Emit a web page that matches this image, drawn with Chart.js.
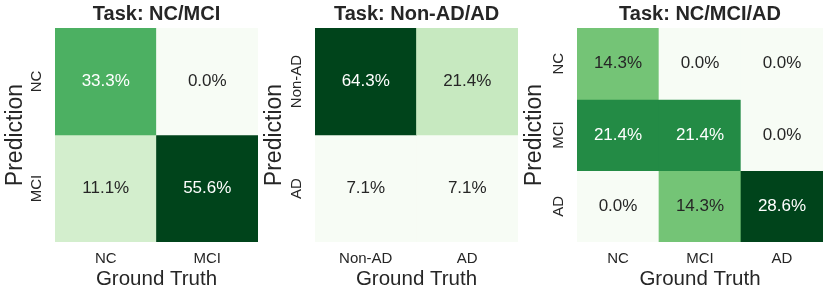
<!DOCTYPE html>
<html lang="en">
<head>
<meta charset="UTF-8">
<title>Confusion matrices</title>
<script src="https://cdn.jsdelivr.net/npm/chart.js"></script>
<style>
  body { margin: 0; background: #fff; }
  .painel { position: absolute; top: 0; }
</style>
</head>
<body>
  <canvas id="chartNcMci" class="painel" width="262" height="298" style="left:0px"></canvas>
  <canvas id="chartAd" class="painel" width="263" height="298" style="left:259px"></canvas>
  <canvas id="chartNcMciAd" class="painel" width="308" height="298" style="left:519px"></canvas>
<script>
// rows = prediction, columns = ground truth (percent)
const labelsNcMci = ['NC', 'MCI'];
const valuesNcMci = [[33.3, 0.0], [11.1, 55.6]];

const labelsAd = ['Non-AD', 'AD'];
const valuesAd = [[64.3, 21.4], [7.1, 7.1]];

const labelsNcMciAd = ['NC', 'MCI', 'AD'];
const valuesNcMciAd = [[14.3, 0.0, 0.0], [21.4, 21.4, 0.0], [0.0, 14.3, 28.6]];

const fonte = '"Liberation Sans", Arial, sans-serif';
const corTexto = '#262626';

// Greens colormap (matplotlib)
const greens = ['#f7fcf5', '#e5f5e0', '#c7e9c0', '#a1d99b', '#74c476', '#41ab5d', '#238b45', '#006d2c', '#00441b'];

function hexToRgb(h) {
    return [1, 3, 5].map(i => parseInt(h.substr(i, 2), 16));
}

function greenColor(t) {
    t = Math.max(0, Math.min(1, t));
    const pos = t * (greens.length - 1);
    const i = Math.min(Math.floor(pos), greens.length - 2);
    const f = pos - i;
    const a = hexToRgb(greens[i]), b = hexToRgb(greens[i + 1]);
    const c = a.map((v, k) => Math.round(v + (b[k] - v) * f));
    return 'rgb(' + c.join(',') + ')';
}

// same rule as seaborn: dark text on light cells
function textColor(rgb) {
    const c = rgb.match(/\d+/g).map(Number).map(v => {
        v = v / 255;
        return v <= 0.03928 ? v / 12.92 : Math.pow((v + 0.055) / 1.055, 2.4);
    });
    const lum = 0.2126 * c[0] + 0.7152 * c[1] + 0.0722 * c[2];
    return lum > 0.408 ? corTexto : '#ffffff';
}

// padding so the rotated tick label is centred 18px left of the plot
function tickPad(labels) {
    const ctx = document.createElement('canvas').getContext('2d');
    ctx.font = '15px ' + fonte;
    const w = Math.max(...labels.map(l => ctx.measureText(l).width));
    return 18 - w / 2;
}

const cellText = {
    id: 'cellText',
    afterDatasetsDraw(chart) {
        const ctx = chart.ctx;
        ctx.save();
        ctx.font = '17px ' + fonte;
        ctx.textAlign = 'center';
        ctx.textBaseline = 'middle';
        chart.data.datasets.forEach((ds, r) => {
            chart.getDatasetMeta(r).data.forEach((bar, c) => {
                ctx.fillStyle = textColor(ds.backgroundColor[c]);
                ctx.fillText(ds.percent[c].toFixed(1) + '%', bar.x, (bar.y + bar.base) / 2);
            });
        });
        ctx.restore();
    }
};

function createHeatmap(id, titulo, labels, values, yWidth, rightPad) {
    const flat = values.flat();
    const vmin = Math.min(...flat), vmax = Math.max(...flat);
    const n = labels.length;

    new Chart(document.getElementById(id), {
        type: 'bar',
        data: {
            labels: labels,
            datasets: values.map((row, r) => ({
                label: labels[r],
                data: row.map(() => [r, r + 1]),
                percent: row,
                backgroundColor: row.map(v => greenColor((v - vmin) / (vmax - vmin))),
                borderWidth: 0,
                categoryPercentage: 1,
                barPercentage: 1,
                grouped: false
            }))
        },
        options: {
            responsive: false,
            animation: false,
            layout: { padding: { left: 0, right: rightPad, top: 0, bottom: 0 } },
            plugins: {
                legend: { display: false },
                tooltip: { enabled: false },
                title: {
                    display: true,
                    text: titulo,
                    fullSize: false,
                    color: corTexto,
                    font: { family: fonte, size: 20, weight: 'bold' },
                    padding: { top: 2, bottom: 2 }
                }
            },
            scales: {
                x: {
                    grid: { display: false, drawTicks: false },
                    border: { display: false },
                    ticks: { color: corTexto, font: { family: fonte, size: 15 }, padding: 8 },
                    title: {
                        display: true, text: 'Ground Truth', color: corTexto,
                        font: { family: fonte, size: 20.5 }, padding: { top: 0, bottom: 6 }
                    },
                    afterFit: s => { s.height = 56; }
                },
                y: {
                    type: 'linear',
                    min: 0,
                    max: n,
                    reverse: true,
                    grid: { display: false, drawTicks: false },
                    border: { display: false },
                    afterBuildTicks: s => { s.ticks = labels.map((_, i) => ({ value: i + 0.5 })); },
                    ticks: {
                        autoSkip: false,
                        minRotation: 90,
                        maxRotation: 90,
                        crossAlign: 'center',
                        padding: tickPad(labels),
                        color: corTexto,
                        font: { family: fonte, size: 15 },
                        callback: (v, i) => labels[i]
                    },
                    title: {
                        display: true, text: 'Prediction', color: corTexto,
                        font: { family: fonte, size: 23 }, padding: { top: 2, bottom: 0 }
                    },
                    afterFit: s => { s.width = yWidth; }
                }
            }
        },
        plugins: [cellText]
    });
}

createHeatmap('chartNcMci', 'Task: NC/MCI', labelsNcMci, valuesNcMci, 55, 4);
createHeatmap('chartAd', 'Task: Non-AD/AD', labelsAd, valuesAd, 56, 4);
createHeatmap('chartNcMciAd', 'Task: NC/MCI/AD', labelsNcMciAd, valuesNcMciAd, 58, 4);
</script>
</body>
</html>
